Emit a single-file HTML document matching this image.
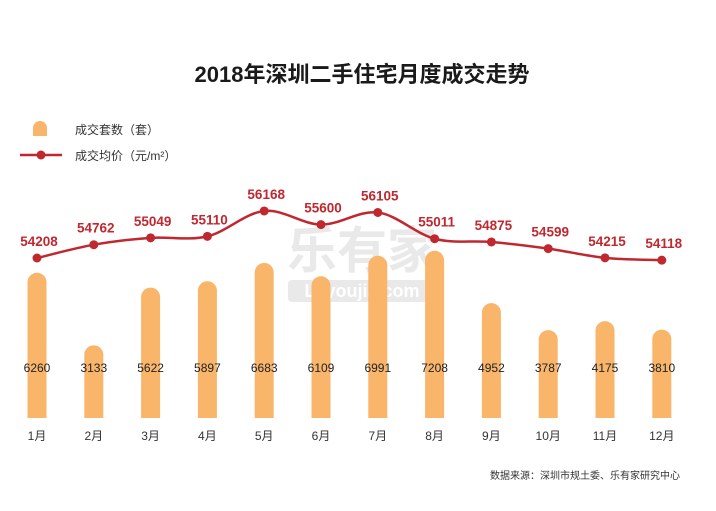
<!DOCTYPE html>
<html><head><meta charset="utf-8"><style>
body{margin:0;background:#fff;}
svg{display:block;font-family:"Liberation Sans","Noto Sans CJK SC",sans-serif;}
</style></head><body>
<svg id="c" width="716" height="511">
<text x="362" y="82" text-anchor="middle" font-size="22" font-weight="bold" fill="#1a1a1a">2018年深圳二手住宅月度成交走势</text>
<g opacity="0.18">
<text x="362" y="268" text-anchor="middle" font-size="50" font-weight="bold" fill="#888">乐有家</text>
<rect x="288" y="280" width="152" height="22" rx="4" fill="#888"/>
<text x="362" y="297" text-anchor="middle" font-size="18" font-weight="bold" fill="#fff">Leyoujia.com</text>
</g>
<g>
<path d="M33,136 v-8 a7,7 0 0 1 14,0 v8 z" fill="#F9B56A"/>
<text x="75" y="134" font-size="12" fill="#333">成交套数（套）</text>
<line x1="20" y1="155" x2="62" y2="155" stroke="#C0282F" stroke-width="2.5"/>
<circle cx="41" cy="155" r="4.5" fill="#C0282F"/>
<text x="75" y="160" font-size="12" fill="#333">成交均价（元/m²）</text>
</g>
<g id="bars"></g><g id="line"></g><g id="labels"></g>
<text x="680" y="479" text-anchor="end" font-size="10" fill="#333">数据来源：深圳市规土委、乐有家研究中心</text>
</svg>
<script>
const months=["1月","2月","3月","4月","5月","6月","7月","8月","9月","10月","11月","12月"];
const volumes=[6260,3133,5622,5897,6683,6109,6991,7208,4952,3787,4175,3810];
const prices=[54208,54762,55049,55110,56168,55600,56105,55011,54875,54599,54215,54118];
const NS="http://www.w3.org/2000/svg";
const x=i=>37+i*56.8;
const base=418;
const yb=v=>base-v*0.0232;
const yp=v=>258-(v-54208)*0.024;
function mk(t,a,p){const e=document.createElementNS(NS,t);for(const k in a)e.setAttribute(k,a[k]);p.appendChild(e);return e;}
const gb=document.getElementById('bars'),gl=document.getElementById('line'),gt=document.getElementById('labels');
volumes.forEach((v,i)=>{
 const w=19,top=yb(v),l=x(i)-w/2;
 const b=mk('path',{d:`M${l},${base} V${top+9.5} A9.5,9.5 0 0 1 ${l+w},${top+9.5} V${base} Z`,fill:'#F9B56A'},gb);
 
 
 const t=mk('text',{x:x(i),y:372,'text-anchor':'middle','font-size':12,fill:'#222'},gt);t.textContent=v;
 
 
 const m=mk('text',{x:x(i),y:440,'text-anchor':'middle','font-size':12,fill:'#333'},gt);m.textContent=months[i];
 
 
});
const pts=prices.map((v,i)=>[x(i),yp(v)]);
let d=`M${pts[0][0]},${pts[0][1]}`;
for(let i=0;i<pts.length-1;i++){
 const p0=pts[Math.max(0,i-1)],p1=pts[i],p2=pts[i+1],p3=pts[Math.min(pts.length-1,i+2)];
 const c1=[p1[0]+(p2[0]-p0[0])/6,p1[1]+(p2[1]-p0[1])/6],c2=[p2[0]-(p3[0]-p1[0])/6,p2[1]-(p3[1]-p1[1])/6];
 d+=` C${c1[0]},${c1[1]} ${c2[0]},${c2[1]} ${p2[0]},${p2[1]}`;
}
const ln=mk('path',{d:d,fill:'none',stroke:'#C0282F','stroke-width':2.5},gl);


prices.forEach((v,i)=>{
 const c=mk('circle',{cx:pts[i][0],cy:pts[i][1],r:4.5,fill:'#C0282F'},gl);
 
 
 const t=mk('text',{x:pts[i][0]+2,y:pts[i][1]-12,'text-anchor':'middle','font-size':13.5,'font-weight':'bold',fill:'#C0282F'},gt);t.textContent=v;
 
 
});
</script>
</body></html>
